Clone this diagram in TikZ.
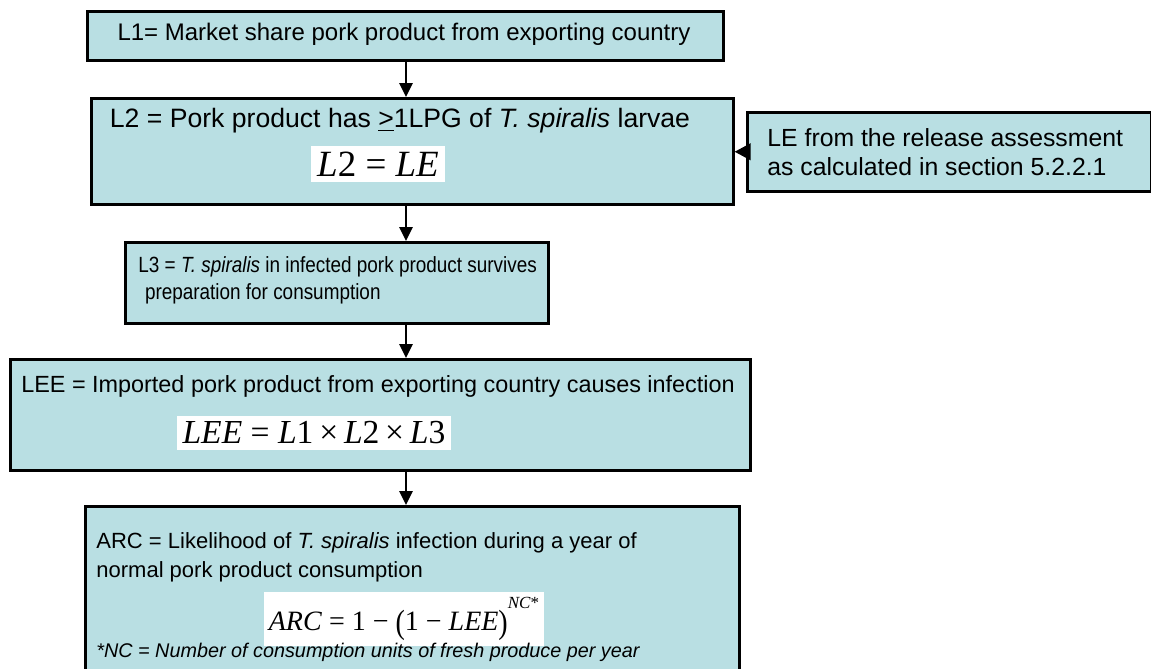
\documentclass[tikz,border=0pt]{standalone}
\usepackage{fontspec}
\setmainfont{Liberation Sans}
\newfontfamily\tnr{Liberation Serif}
\newfontfamily\narrowsans[FakeStretch=0.86]{Liberation Sans}
\usetikzlibrary{arrows.meta}
\definecolor{boxfill}{RGB}{185,223,227}
\begin{document}
\begin{tikzpicture}[x=0.5pt,y=-0.5pt,
  box/.style={draw=black, line width=1.25pt, fill=boxfill, inner sep=0pt, anchor=north west},
  arr/.style={-{Triangle[length=7pt,width=6.5pt]}, line width=1.3pt},
  txt/.style={inner sep=0pt, font=\fontsize{12}{14.5}\selectfont},
  ltxt/.style={txt, align=left, anchor=west},
  formula/.style={fill=white, inner sep=3pt, font=\tnr\fontsize{17}{19}\selectfont}]
\useasboundingbox (0,0) rectangle (1151,669);
% boxes
\node[box, minimum width=318pt, minimum height=24.5pt] (L1) at (86,10) {};
\node[box, minimum width=321pt, minimum height=53pt] (L2) at (90,97) {};
\node[box, minimum width=202pt, minimum height=39.5pt] (LE) at (746,111) {};
\node[box, minimum width=211.5pt, minimum height=40.5pt] (L3) at (124,241) {};
\node[box, minimum width=370pt, minimum height=55.5pt] (LEE) at (9,358) {};
\node[box, minimum width=327pt, minimum height=90pt] (ARC) at (84,505) {};
\coordinate (col) at (406,0);
% texts
\node[txt] (t1) at (404,34.5) {L1= Market share pork product from exporting country};
\node[txt, font=\fontsize{13.3}{15}\selectfont] (t2) at (400,121) {L2 = Pork product has \underline{>}1LPG of \textit{T. spiralis} larvae};
\node[formula, font=\tnr\fontsize{18.5}{20}\selectfont] (f2) at (378,164) {\textit{L}2 = \textit{LE}};
\node[ltxt, font=\fontsize{12.4}{14.5}\selectfont] (tLE) at (767,152) {LE from the release assessment\\as calculated in section 5.2.2.1};
\node[ltxt, font=\narrowsans\fontsize{11}{13.5}\selectfont] (t3) at (138,280) {L3 = \textit{T. spiralis} in infected pork product survives\\\hspace{0.3em}preparation for consumption};
\node[txt, font=\fontsize{11.7}{14}\selectfont] (tLEE) at (378,386) {LEE = Imported pork product from exporting country causes infection};
\node[formula, font=\tnr\fontsize{16.8}{19}\selectfont] (fLEE) at (314,433) {\textit{LEE} = \textit{L}1$\,$×$\,$\textit{L}2$\,$×$\,$\textit{L}3};
\node[ltxt, font=\fontsize{11}{14.5}\selectfont] (tARC) at (96,557) {ARC = Likelihood of \textit{T. spiralis} infection during a year of\\normal pork product consumption};
\node[formula, inner sep=2.5pt, font=\tnr\fontsize{14}{16}\selectfont] (fARC) at (404,619) {\textit{ARC} = 1 − \raisebox{-0.1em}{\scalebox{1}[1.2]{(}}1 − \textit{LEE}\raisebox{-0.1em}{\scalebox{1}[1.2]{)}}\raisebox{0.8em}{\fontsize{8.5}{9}\selectfont\textit{NC}*}};
\node[txt, anchor=west, font=\fontsize{9.9}{12}\selectfont\itshape] (nc) at (96,652) {*NC = Number of consumption units of fresh produce per year};
% connectors
\draw[arr] (L1.south -| col) -- (L2.north -| col);
\draw[arr] (L2.south -| col) -- (L3.north -| col);
\draw[arr] (L3.south -| col) -- (LEE.north -| col);
\draw[arr] (LEE.south -| col) -- (ARC.north -| col);
\draw[-{Triangle[length=8pt,width=8pt]}, line width=1.7pt] (LE.west) -- (LE.west -| L2.east);
\end{tikzpicture}
\end{document}
